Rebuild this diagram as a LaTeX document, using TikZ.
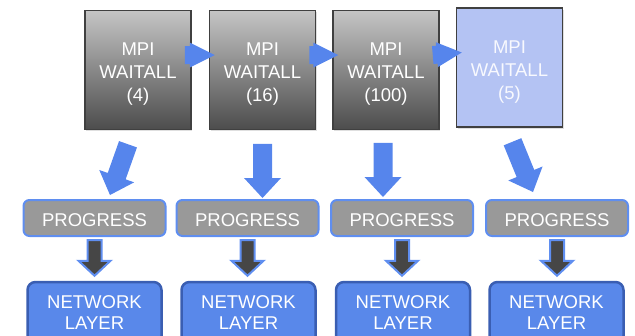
\documentclass[tikz,border=0pt]{standalone}
\usepackage{fontspec}
\setmainfont{Liberation Sans}
\usetikzlibrary{calc,shadows}

\definecolor{arrowblue}{RGB}{86,133,236}
\definecolor{progfill}{RGB}{153,153,153}
\definecolor{progline}{RGB}{95,142,240}
\definecolor{netfill}{RGB}{89,136,234}
\definecolor{netline}{RGB}{58,94,178}
\definecolor{waitline}{RGB}{64,64,64}
\definecolor{waitlight}{RGB}{180,195,243}
\definecolor{darkarrow}{RGB}{70,70,70}

% fat arrow from #2 to #3: shaft half width, head half width, head length
\newcommand{\blockarrow}[6][]{%
  \coordinate (bah) at ($(#3)!#6!(#2)$);
  \path[#1] ($(#2)!#4!90:(#3)$) -- ($(bah)!#4!90:(#3)$) -- ($(bah)!#5!90:(#3)$)
    -- (#3) -- ($(bah)!#5!-90:(#3)$) -- ($(bah)!#4!-90:(#3)$) -- ($(#2)!#4!-90:(#3)$) -- cycle;
}

\tikzset{
  boxfont/.style={font=\fontsize{18.5}{21}\selectfont},
  waitbox/.style={font=\fontsize{18.5}{23}\selectfont, draw=waitline, line width=1.5pt,
    minimum width=106pt, minimum height=119pt, inner sep=0pt, align=center, text=white,
    text height=67pt, top color=black!23, bottom color=black!70,
    drop shadow={opacity=0.25, shadow xshift=1pt, shadow yshift=-1.5pt}},
  lastbox/.style={waitbox, top color=waitlight, bottom color=waitlight, text=white!90!waitlight},
  progbox/.style={boxfont, draw=progline, line width=2pt, fill=progfill, text=white,
    rounded corners=6pt, minimum width=142pt, minimum height=36pt, inner sep=0pt,
    text height=16pt, text depth=0pt},
  netbox/.style={boxfont, draw=netline, line width=2.5pt, fill=netfill, text=white,
    rounded corners=8pt, minimum width=134pt, minimum height=62pt, inner sep=0pt, align=center},
  bluearrow/.style={fill=arrowblue},
  darkarrowstyle/.style={fill=darkarrow, draw=progline, line width=2pt, line join=miter}
}

\begin{document}
\begin{tikzpicture}[x=1pt,y=-1pt]
\useasboundingbox (0,0) rectangle (635,335);
\clip (0,0) rectangle (635,335);

% MPI waitall boxes
\node[waitbox] (wait1) at (138,70) {MPI\\WAITALL\\(4)};
\node[waitbox] (wait2) at (262.5,70) {MPI\\WAITALL\\(16)};
\node[waitbox] (wait3) at (386,70) {MPI\\WAITALL\\(100)};
\node[lastbox] (wait4) at (509.5,67.5) {MPI\\WAITALL\\(5)};

% progress and network layer
\foreach \i/\x in {1/94.5,2/247.5,3/402,4/557}
  \node[progbox] (prog\i) at (\x,218) {PROGRESS};
\foreach \i/\x in {1/94.5,2/248.5,3/403,4/556.5}
  \node[netbox] (net\i) at (\x,313) {NETWORK\\LAYER};

% arrows between the waitall boxes
\foreach \i/\j in {1/2,2/3,3/4} {
  \coordinate (hs\i) at ($(wait\i.east)+(-7,-15)$);
  \coordinate (he\i) at ($(wait\j.west)+(6,-15)$);
  \blockarrow[bluearrow]{hs\i}{he\i}{9pt}{12.5pt}{25pt}
}

% big arrows down to progress
\coordinate (vs1) at ($(wait1.south)+(-10,14)$);
\coordinate (ve1) at ($(prog1.north)+(15.5,-4)$);
\coordinate (vs2) at ($(wait2.south)+(0,13.5)$);
\coordinate (ve2) at ($(prog2.north)+(15,-1)$);
\coordinate (vs3) at ($(wait3.south)+(-3,12.5)$);
\coordinate (ve3) at ($(prog3.north)+(-19,-2)$);
\coordinate (vs4) at ($(wait4.south)+(3,14)$);
\coordinate (ve4) at ($(prog4.north)+(-24,-7)$);
\foreach \i in {1,...,4} {
  \blockarrow[bluearrow]{vs\i}{ve\i}{9.5pt}{18.5pt}{20pt}
}

% dark arrows down to network layer
\foreach \i in {1,...,4} {
  \coordinate (ds\i) at ($(prog\i.south)+(0,3)$);
  \coordinate (de\i) at ($(prog\i.south |- net\i.north)+(0,-5)$);
  \blockarrow[darkarrowstyle]{ds\i}{de\i}{7pt}{16pt}{15pt}
}

\end{tikzpicture}
\end{document}
